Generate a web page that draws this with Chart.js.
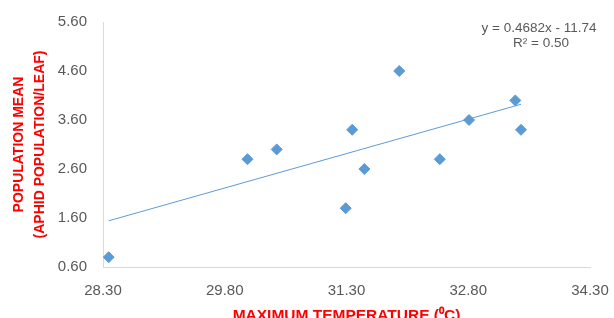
<!DOCTYPE html>
<html lang="en">
<head>
  <meta charset="UTF-8" />
  <title>Aphid population vs maximum temperature</title>
  <script src="https://cdn.jsdelivr.net/npm/chart.js@4.4.0/dist/chart.umd.min.js"></script>
  <style>
    html, body { margin:0; padding:0; background:#fff; }
    .wrap      { width:614px; height:318px; }
  </style>
</head>
<body>
  <div class="wrap"><canvas id="chart" width="614" height="318"></canvas></div>

  <script>
    /* ── data ── */
    const maxTemp   = [28.37, 30.08, 30.44, 31.37, 31.29, 31.52, 31.95, 32.45, 32.81, 33.38, 33.45];
    const aphidMean = [0.80, 2.80, 3.00, 3.40, 1.80, 2.60, 4.60, 2.80, 3.60, 4.00, 3.40];
    const xTicks    = [28.30, 29.80, 31.30, 32.80, 34.30];
    const yTicks    = [0.60, 1.60, 2.60, 3.60, 4.60, 5.60];

    /* linear trendline as printed on the chart */
    const slope     = 0.4682;
    const intercept = -11.74;
    const rSquared  = 0.50;

    const points = maxTemp.map((x, i) => ({ x, y: aphidMean[i] }));
    const xLo = Math.min(...maxTemp), xHi = Math.max(...maxTemp);
    const trend = [xLo, xHi].map(x => ({ x, y: slope * x + intercept }));

    const BLUE = '#5b9bd5', GREY = '#595959', RED = '#ff0000';
    const FONT = '"Liberation Sans", Arial, sans-serif';

    /* axis titles + equation label */
    const labelsPlugin = {
      id: 'labels',
      afterDraw(chart) {
        const { ctx, chartArea: a } = chart;
        ctx.save();
        ctx.fillStyle = RED;
        ctx.font = 'bold 14px ' + FONT;
        ctx.textAlign = 'center';
        ctx.textBaseline = 'middle';
        const midY = (a.top + a.bottom) / 2;
        ctx.save();
        ctx.translate(19, midY);
        ctx.rotate(-Math.PI / 2);
        ctx.fillText('POPULATION MEAN', 0, 0);
        ctx.fillText('(APHID POPULATION/LEAF)', 0, 21);
        ctx.restore();

        // x title sits partly below the bottom edge, as in the original
        ctx.font = 'bold 15.5px ' + FONT;
        ctx.textBaseline = 'alphabetic';
        ctx.fillText('MAXIMUM TEMPERATURE (⁰C)', (a.left + a.right) / 2, 320);

        ctx.fillStyle = GREY;
        ctx.font = '13.5px ' + FONT;
        ctx.textBaseline = 'middle';
        ctx.fillText('y = ' + slope + 'x - ' + Math.abs(intercept), 539, 28);
        ctx.fillText('R² = ' + rSquared.toFixed(2), 541, 43);
        ctx.restore();
      }
    };

    new Chart(document.getElementById('chart'), {
      type: 'scatter',
      data: {
        datasets: [
          {
            data: points,
            pointStyle: 'rectRot',
            pointRadius: 5.5,
            pointBackgroundColor: BLUE,
            pointBorderColor: BLUE,
            pointBorderWidth: 1,
            order: 1
          },
          {
            type: 'line',
            data: trend,
            borderColor: BLUE,
            borderWidth: 1,
            pointRadius: 0,
            fill: false,
            order: 2
          }
        ]
      },
      options: {
        responsive: false,
        animation: false,
        layout: { padding: { left: 0, right: 24, top: 22, bottom: 0 } },
        plugins: { legend: { display: false }, tooltip: { enabled: false } },
        scales: {
          x: {
            type: 'linear',
            min: xTicks[0], max: xTicks[xTicks.length - 1],
            afterBuildTicks: s => { s.ticks = xTicks.map(v => ({ value: v })); },
            afterFit: s => { s.height = 51; s.paddingLeft = 0; s.paddingRight = 0; },
            grid: { display: false, drawTicks: false },
            border: { display: true, color: '#d9d9d9', width: 1 },
            ticks: {
              padding: 15, color: GREY, font: { family: FONT, size: 15 },
              callback: v => v.toFixed(2)
            }
          },
          y: {
            type: 'linear',
            min: yTicks[0], max: yTicks[yTicks.length - 1],
            afterBuildTicks: s => { s.ticks = yTicks.map(v => ({ value: v })); },
            afterFit: s => { s.width = 103; s.paddingTop = 0; s.paddingBottom = 0; },
            grid: { display: false, drawTicks: false },
            border: { display: true, color: '#d9d9d9', width: 1 },
            ticks: {
              padding: 16, color: GREY, font: { family: FONT, size: 15 },
              callback: v => v.toFixed(2)
            }
          }
        }
      },
      plugins: [labelsPlugin]
    });
  </script>
</body>
</html>
